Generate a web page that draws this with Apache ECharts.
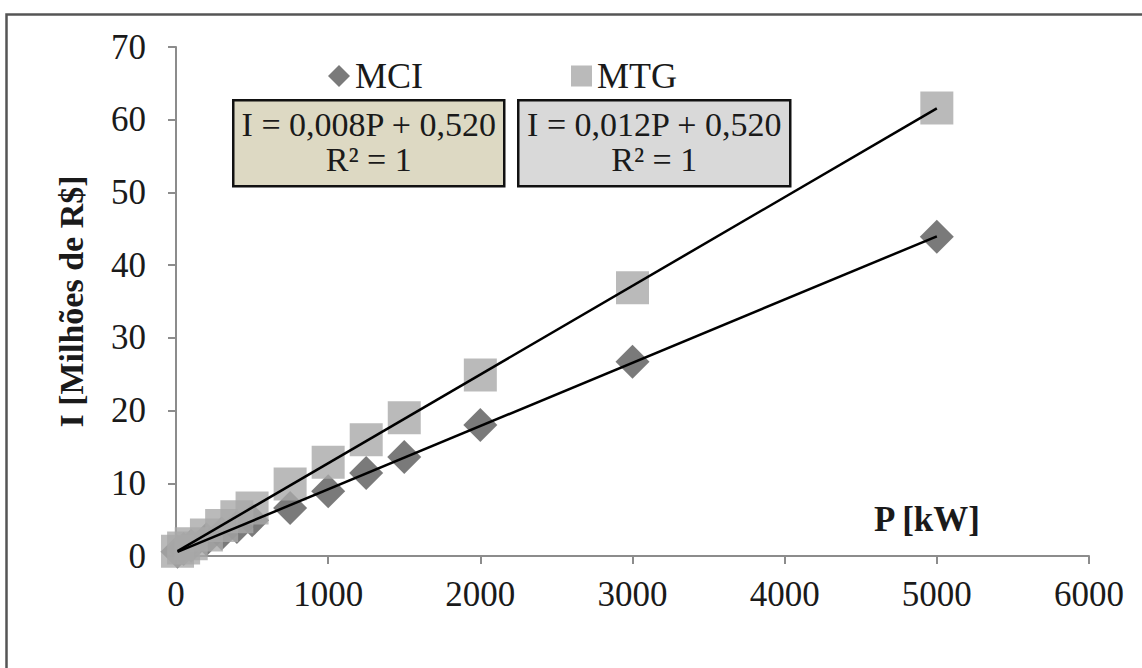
<!DOCTYPE html>
<html>
<head>
<meta charset="utf-8">
<script src="https://cdn.jsdelivr.net/npm/echarts@6/dist/echarts.min.js"></script>
<style>
html,body{margin:0;padding:0;background:#fff;}
#chart{width:1142px;height:668px;}
</style>
</head>
<body>
<div id="chart"></div>
<script>
// ---- data ----
const P = [10, 50, 100, 200, 300, 400, 500, 750, 1000, 1250, 1500, 2000, 3000, 5000];
const mciValues = [0.6, 0.95, 1.4, 2.3, 3.1, 4.0, 4.9, 6.6, 8.9, 11.4, 13.6, 18.0, 26.7, 43.9];
const mtgValues = [0.64, 1.1, 1.7, 2.9, 4.2, 5.4, 6.6, 9.9, 12.9, 16.0, 19.0, 24.9, 36.9, 61.6];
const seriesNames = ['MCI', 'MTG'];
const xTicks = {min: 0, max: 6000, interval: 1000};
const yTicks = {min: 0, max: 70, interval: 10};
const eqMCI = ['I = 0,008P + 0,520', 'R² = 1'];
const eqMTG = ['I = 0,012P + 0,520', 'R² = 1'];
const yTitle = 'I [Milhões de R$]';
const xTitle = 'P [kW]';

// linear least-squares trendline across the data range
function trend(xs, ys) {
  const n = xs.length;
  let sx = 0, sy = 0, sxx = 0, sxy = 0;
  for (let i = 0; i < n; i++) { sx += xs[i]; sy += ys[i]; sxx += xs[i]*xs[i]; sxy += xs[i]*ys[i]; }
  const b = (n*sxy - sx*sy) / (n*sxx - sx*sx);
  const a = (sy - b*sx) / n;
  const x0 = Math.min(...xs), x1 = Math.max(...xs);
  return [[x0, a + b*x0], [x1, a + b*x1]];
}

const serif = '"Liberation Serif", "DejaVu Serif", serif';
const txtColor = '#1a1a1a';
const axisColor = '#8c8c8c';

const chart = echarts.init(document.getElementById('chart'), null, {renderer: 'svg'});

function box(x, y, w, h, fill, lines) {
  return {
    type: 'group', left: x, top: y,
    children: [
      {type: 'rect', shape: {x: 0, y: 0, width: w, height: h},
       style: {fill: fill, stroke: '#111', lineWidth: 2.5}},
      {type: 'text', x: w/2, y: 7,
       style: {text: lines[0], font: '34px ' + serif, fill: txtColor, textAlign: 'center', textVerticalAlign: 'top'}},
      {type: 'text', x: w/2, y: 42,
       style: {text: lines[1], font: '34px ' + serif, fill: txtColor, textAlign: 'center', textVerticalAlign: 'top'}}
    ]
  };
}

const option = {
  backgroundColor: '#fff',
  animation: false,
  grid: {left: 176, right: 53, top: 47, bottom: 112, containLabel: false},
  legend: [
    {data: [{name: seriesNames[0], icon: 'diamond'}], left: 323, top: 53, itemWidth: 22, itemHeight: 22, itemGap: 4,
     textStyle: {fontFamily: serif, fontSize: 36, color: txtColor}, selectedMode: false},
    {data: [{name: seriesNames[1], icon: 'rect'}], left: 566, top: 53, itemWidth: 21, itemHeight: 21, itemGap: 4,
     textStyle: {fontFamily: serif, fontSize: 36, color: txtColor}, selectedMode: false}
  ],
  xAxis: {
    type: 'value', min: xTicks.min, max: xTicks.max, interval: xTicks.interval,
    splitLine: {show: false},
    axisLine: {show: true, onZero: false, lineStyle: {color: axisColor, width: 2}},
    axisTick: {show: true, length: 8, lineStyle: {color: axisColor, width: 2}},
    axisLabel: {fontFamily: serif, fontSize: 35, color: txtColor, margin: 21, formatter: v => String(v)}
  },
  yAxis: {
    type: 'value', min: yTicks.min, max: yTicks.max, interval: yTicks.interval,
    splitLine: {show: false},
    axisLine: {show: true, onZero: false, lineStyle: {color: axisColor, width: 2}},
    axisTick: {show: true, length: 8, lineStyle: {color: axisColor, width: 2}},
    axisLabel: {fontFamily: serif, fontSize: 35, color: txtColor, margin: 30, formatter: v => String(v)},
    name: yTitle, nameLocation: 'middle', nameRotate: 90, nameGap: 88,
    nameTextStyle: {fontFamily: serif, fontSize: 34, fontWeight: 'bold', color: txtColor}
  },
  series: [
    {name: seriesNames[0], type: 'scatter', symbol: 'diamond', symbolSize: 34,
     itemStyle: {color: '#595959'}, data: P.map((p, i) => [p, mciValues[i]]), z: 2},
    {name: seriesNames[1], type: 'scatter', symbol: 'rect', symbolSize: 33,
     itemStyle: {color: '#a9a9a9'}, data: P.map((p, i) => [p, mtgValues[i]]), z: 3},
    {name: 'trendMCI', type: 'line', data: trend(P, mciValues), showSymbol: false, silent: true,
     lineStyle: {color: '#000', width: 2.5}, z: 5},
    {name: 'trendMTG', type: 'line', data: trend(P, mtgValues), showSymbol: false, silent: true,
     lineStyle: {color: '#000', width: 2.5}, z: 5}
  ],
  graphic: [
    {type: 'rect', left: 4, top: 12, shape: {x: 0, y: 0, width: 1300, height: 800},
     style: {fill: 'none', stroke: '#555', lineWidth: 2.5}, silent: true, z: 100},
    box(232, 99, 271, 86, '#ddd9c3', eqMCI),
    box(517, 99, 272, 86, '#d9d9d9', eqMTG),
    {type: 'text', left: 874, top: 502,
     style: {text: xTitle, font: 'bold 35px ' + serif, fill: txtColor}}
  ]
};
chart.setOption(option);
</script>
</body>
</html>
